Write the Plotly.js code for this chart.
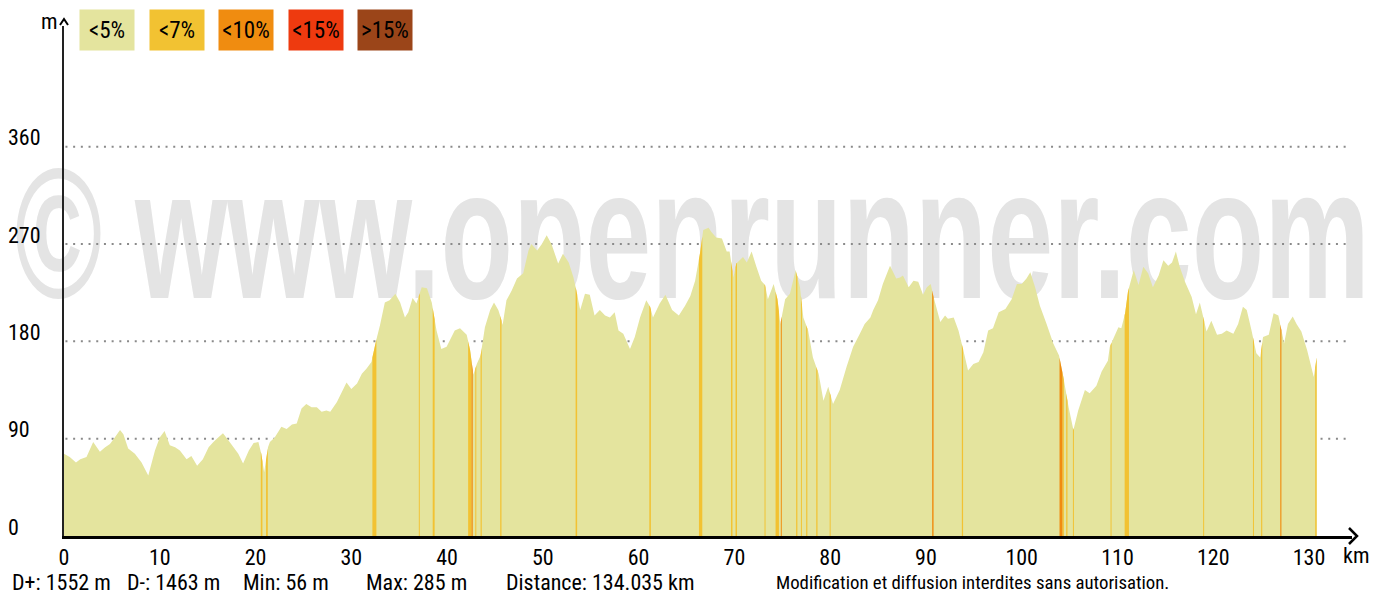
<!DOCTYPE html>
<html><head><meta charset="utf-8">
<script src="https://cdn.plot.ly/plotly-3.0.1.min.js"></script>
<style>html,body{margin:0;padding:0;background:#fff;}#chart{width:1381px;height:598px;}</style>
</head><body><div id="chart"></div>
<script>
// ---- data ----
const distanceKm = [0,0.6,1.25,1.7,2.35,3.05,3.75,4.3,4.8,5.3,5.85,6.2,6.7,7.4,8.1,8.8,9.5,10,10.5,11.05,11.6,12.1,12.8,13.3,13.9,14.5,15.1,15.6,16.1,16.6,17.2,17.7,18.2,18.7,19.3,19.8,20.3,20.6,20.9,21.3,21.5,22,22.7,23.25,23.8,24.3,24.8,25.3,25.85,26.4,26.9,27.4,27.8,28.5,29,29.5,30,30.6,31.1,31.6,32.1,32.6,33,33.5,34,34.6,35.1,35.6,35.95,36.4,36.8,37.35,37.9,38.4,38.9,39.4,39.95,40.8,41.35,42.05,42.4,42.75,43.1,43.5,43.95,44.5,44.9,45.35,45.6,45.8,46.2,46.75,47.3,47.95,48.5,48.8,49.4,49.9,50.4,50.9,51.6,52.1,52.7,53.2,53.5,53.9,54.4,54.9,55.4,55.95,56.5,57,57.5,57.9,58.4,59.1,59.6,60.15,60.8,61.2,61.5,62.2,62.8,63.5,64.2,64.85,65.4,65.9,66.4,66.75,67.3,67.6,68.1,68.7,69.2,69.5,69.9,70.2,70.9,71.3,71.8,72.3,72.8,73.2,73.5,74.1,74.5,74.8,75.3,75.8,76.4,76.85,77.2,77.7,78.2,78.8,79.3,79.8,80.3,81,81.7,82.4,83.1,83.6,84.2,84.5,85,85.5,86.25,86.9,87.3,87.6,88.2,88.7,89.2,89.7,90.1,90.5,90.8,91.5,92,92.3,92.9,93.4,93.9,94.4,94.95,95.5,96,96.5,97,97.6,98.3,98.95,99.5,100,100.5,100.9,101.4,101.9,102.6,103.3,103.9,104.35,104.9,105.4,105.9,106.6,107.1,107.8,108.35,109,109.2,109.6,110.1,110.4,110.8,111.1,111.7,112.2,112.7,113.2,113.7,114.3,114.8,115.3,115.7,116.1,116.5,117.05,117.75,118.2,118.6,119,119.3,119.8,120.4,120.9,121.4,122.1,122.6,123.1,123.5,124,124.5,124.9,125.2,125.8,126.3,126.8,127.2,127.4,127.8,128.3,128.7,129.2,129.8,130.5,130.8];
const elevationM = [76,73,68,71,73,87,78,82,85,91,98,94,81,76,68,56,79,91,97,84,82,79,71,74,65,71,82,87,91,95,88,82,76,67,79,86,87,76,59,82,87,91,101,99,103,104,118,122,119,119,115,116,115,124,133,142,136,141,150,155,161,181,195,216,218,224,216,202,207,220,215,230,229,216,190,173,175,190,192,186,172,149,159,167,193,209,216,209,202,195,218,227,238,243,264,270,264,270,278,270,252,261,253,239,227,209,224,223,204,209,204,202,207,190,187,173,184,202,218,212,202,215,223,209,204,213,222,236,261,283,285,281,276,275,263,263,239,252,258,253,263,249,236,232,219,233,219,196,219,224,246,230,202,190,165,150,125,138,122,135,156,175,187,196,202,209,218,233,250,238,239,241,230,236,235,223,230,233,221,198,204,201,202,190,172,153,159,161,170,190,192,207,210,219,233,233,238,244,230,213,196,178,167,147,119,98,116,135,132,139,152,162,175,183,193,192,206,226,246,232,249,243,230,241,255,250,253,263,249,235,221,205,216,201,189,199,186,187,190,187,196,212,209,190,169,165,184,186,206,204,187,178,196,203,196,189,172,147,165];
// steep sections (gradient class index: 1 = <7%, 2 = <10%)
const steepStartKm = [20.55,21.1,32.2,37.05,38.5,42.2,42.55,42.95,43.5,45.55,53.42,61.12,66.3,69.65,70.12,73.15,74.3,74.85,76.45,76.95,77.5,78.55,79.95,90.65,93.75,103.95,104.25,104.65,105.35,109.28,110.75,118.95,124.15,125.0,127.0,130.65];
const steepEndKm   = [20.72,21.28,32.62,37.15,38.7,42.55,42.68,43.05,43.62,45.68,53.58,61.28,66.65,69.8,70.27,73.25,74.65,74.95,76.58,77.05,77.62,78.68,80.05,90.8,93.88,104.25,104.4,104.78,105.45,109.38,111.2,119.05,124.25,125.12,127.12,130.8];
const steepClass   = [1,1,1,1,1,1,2,1,1,1,1,1,1,1,1,1,1,2,1,1,1,1,1,2,1,2,1,1,1,1,1,1,1,1,2,1];
const classLabels = ['&lt;5%','&lt;7%','&lt;10%','&lt;15%','&gt;15%'];
const classColors = ['#E4E49E','#F2C232','#F08C10','#EE3A0F','#9B4519'];
const xTicks = [0,10,20,30,40,50,60,70,80,90,100,110,120,130];
const yTicks = [0,90,180,270,360];
const statTexts = ['D+: 1552 m','D-: 1463 m','Min: 56 m','Max: 285 m','Distance: 134.035 km'];
const noticeText = 'Modification et diffusion interdites sans autorisation.';
const watermarkText = '\u00A9 www.openrunner.com';

// ---- layout geometry ----
const L = 64, T = 26, W = 1288, H = 510;
const XMAX = 134.49, YMAX = 471.6;
const px2x = p => (p - L) / W;
const py2y = p => (T + H - p) / H;
const NARROW = '"Liberation Sans Narrow", "Roboto Condensed", "Noto Sans Condensed", "Open Sans Condensed", "DejaVu Sans Condensed", Roboto, sans-serif';

function elevAt(k) {
  for (let i = 1; i < distanceKm.length; i++) {
    if (k <= distanceKm[i]) {
      const a = distanceKm[i-1], b = distanceKm[i];
      const t = (k - a) / (b - a);
      return elevationM[i-1] + t * (elevationM[i] - elevationM[i-1]);
    }
  }
  return elevationM[elevationM.length - 1];
}

const traces = [];
traces.push({x:[65.6], y:[262.6], mode:'text', text:[watermarkText], textposition:'middle center',
  textfont:{family:'"Liberation Sans", Arial, sans-serif', size:185, color:'#e4e4e4', weight:'bold'},
  cliponaxis:false, hoverinfo:'skip', showlegend:false});
yTicks.filter(v => v > 0).forEach(v => traces.push({x:[0.15, 134.1], y:[v, v], mode:'lines',
  line:{color:'#8a8a8a', width:2, dash:'2px,5.7px'}, hoverinfo:'skip', showlegend:false}));
traces.push({x:distanceKm, y:elevationM, mode:'none', fill:'tozeroy', fillcolor:classColors[0],
  hoverinfo:'x+y', showlegend:false});
[1,2,3,4].forEach(c => {
  const xs = [], ys = [];
  steepClass.forEach((cl, i) => {
    if (cl !== c) return;
    const a = steepStartKm[i], b = steepEndKm[i];
    xs.push(a, a); ys.push(0, elevAt(a));
    distanceKm.forEach((d, j) => { if (d > a && d < b) { xs.push(d); ys.push(elevationM[j]); } });
    xs.push(b, b, null); ys.push(elevAt(b), 0, null);
  });
  if (xs.length) traces.push({x:xs, y:ys, mode:'none', fill:'toself', fillcolor:classColors[c],
    hoverinfo:'skip', showlegend:false});
});

const annotations = [];
yTicks.forEach(v => annotations.push({xref:'paper', yref:'y', x:px2x(6), y:v, xanchor:'left', yanchor:'middle',
  yshift:9, text:String(v), showarrow:false, font:{family:NARROW, size:22, color:'#000'}}));
classLabels.forEach((lab, i) => annotations.push({xref:'paper', yref:'paper', x:px2x(107 + i*69.5), y:py2y(30),
  xanchor:'center', yanchor:'middle', width:54, height:40, borderpad:0, bgcolor:classColors[i],
  text:lab, showarrow:false, font:{family:NARROW, size:23, color:'#000'}}));
const statX = [10, 125, 241, 364, 504];
statTexts.forEach((s, i) => annotations.push({xref:'paper', yref:'paper', x:px2x(statX[i]), y:py2y(582),
  xanchor:'left', yanchor:'middle', text:s, showarrow:false, font:{family:NARROW, size:22, color:'#000'}}));
annotations.push({xref:'paper', yref:'paper', x:px2x(774), y:py2y(583), xanchor:'left', yanchor:'middle',
  text:noticeText, showarrow:false, font:{family:NARROW, size:18.8, color:'#000'}});
annotations.push({xref:'paper', yref:'paper', x:px2x(1356), y:py2y(555), xanchor:'center', yanchor:'middle',
  text:'km', showarrow:false, font:{family:NARROW, size:22, color:'#000'}});
annotations.push({xref:'paper', yref:'paper', x:px2x(49), y:py2y(21), xanchor:'center', yanchor:'middle',
  text:'m', showarrow:false, font:{family:NARROW, size:22, color:'#000'}});

const shapes = [
  {type:'path', xref:'paper', yref:'paper',
   path:`M${px2x(1349)},${py2y(528)} L${px2x(1357)},${py2y(536)} L${px2x(1349)},${py2y(544)}`,
   line:{color:'#000', width:2.5}},
  {type:'path', xref:'paper', yref:'paper',
   path:`M${px2x(60)},${py2y(25)} L${px2x(64)},${py2y(19)} L${px2x(68)},${py2y(25)}`,
   line:{color:'#000', width:2}}
];

const layout = {
  width:1381, height:598, margin:{l:L, r:1381-L-W, t:T, b:598-T-H, pad:0},
  paper_bgcolor:'#fff', plot_bgcolor:'rgba(0,0,0,0)', showlegend:false,
  xaxis:{range:[0, XMAX], showgrid:false, zeroline:false, showline:true, linecolor:'#000', linewidth:3,
    tickvals:xTicks, ticktext:xTicks.map(String), ticks:'', tickfont:{family:NARROW, size:22, color:'#000'}},
  yaxis:{range:[0, YMAX], showgrid:false, zeroline:false, showline:true, linecolor:'#222', linewidth:2.5,
    showticklabels:false, ticks:''},
  annotations, shapes
};

Plotly.newPlot('chart', traces, layout, {staticPlot:true}).then(() => {
  const t = document.querySelector('.scatterlayer .trace .textpoint text');
  if (t) { t.setAttribute('textLength', '1355'); t.setAttribute('lengthAdjust', 'spacingAndGlyphs'); }
});
</script>
</body></html>
